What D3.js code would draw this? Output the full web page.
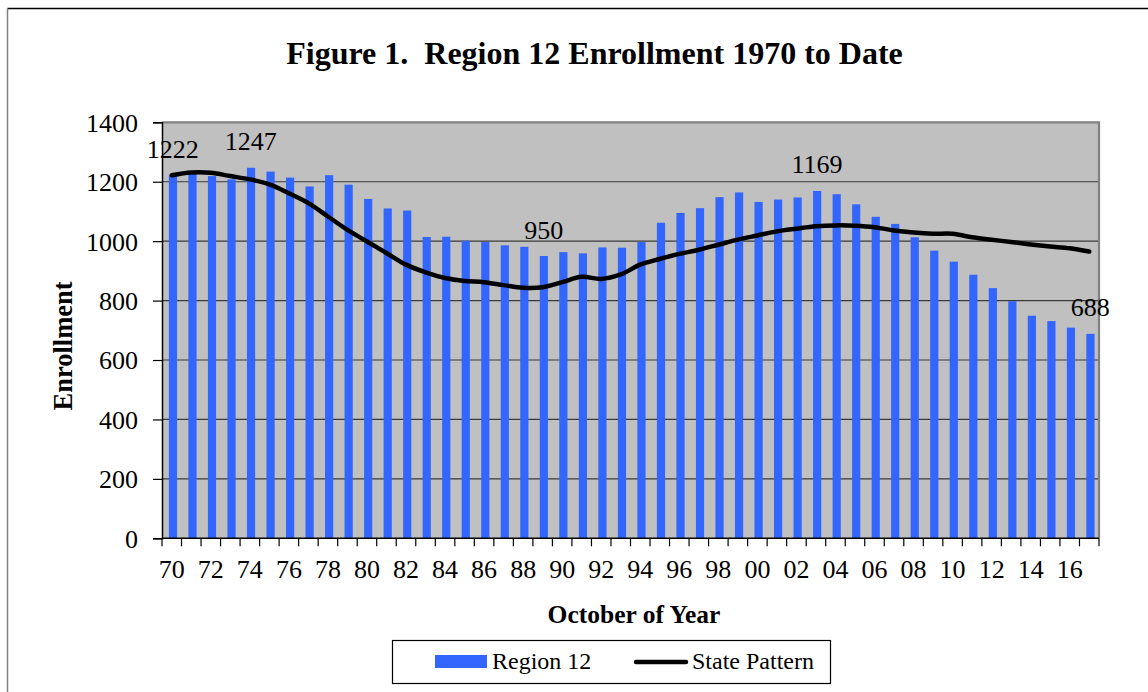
<!DOCTYPE html>
<html><head><meta charset="utf-8">
<script src="https://cdn.jsdelivr.net/npm/d3@7"></script>
<style>body{margin:0;background:#fff}svg{display:block}text{font-family:"Liberation Serif","Times New Roman",serif;fill:#000}</style>
</head><body>
<script>
const years = d3.range(1970, 2018);
const yearLabels = years.map(y => String(y % 100).padStart(2, "0"));
const region12 = [1222,1226,1219,1208,1247,1234,1214,1184,1222,1190,1142,1110,1103,1014,1015,1001,
  997,986,981,950,963,959,979,978,997,1062,1095,1111,1148,1164,1132,1140,1147,1169,1158,1124,1082,
  1058,1013,968,931,887,842,798,749,731,709,688];
const statePattern = [1222,1231,1230,1219,1208,1191,1161,1128,1083,1038,999,960,921,895,876,866,
  862,852,843,845,862,880,873,888,921,940,957,971,988,1005,1019,1033,1042,1050,1053,1052,1047,
  1036,1029,1025,1025,1013,1005,997,989,982,976,965];
const yTicks = [0,200,400,600,800,1000,1200,1400];
const labeledYears = [1970,1974,1989,2003,2017];

const W = 1148, H = 692;
const svg = d3.select("body").append("svg").attr("width", W).attr("height", H);
const L = 162, R = 1099, T = 122.3, B = 538.3;

// outer chart border
svg.append("line").attr("x1",7.5).attr("x2",W+5).attr("y1",8.5).attr("y2",8.5).attr("stroke","#000").attr("stroke-width",1.5);
svg.append("line").attr("x1",7.5).attr("x2",7.5).attr("y1",8.5).attr("y2",H+5).attr("stroke","#808080").attr("stroke-width",1.5);

const x = d3.scaleBand().domain(years).range([L, R]).padding(0);
const y = d3.scaleLinear().domain([0, 1400]).range([B, T]);

// plot background
svg.append("rect").attr("x",L).attr("y",T).attr("width",R-L).attr("height",B-T).attr("fill","#C0C0C0");

// gridlines
svg.append("g").selectAll("line").data(yTicks.filter(v => v > 0 && v < 1400)).join("line")
  .attr("x1",L).attr("x2",R).attr("y1",d=>y(d)).attr("y2",d=>y(d))
  .attr("stroke","#3a3a3a").attr("stroke-width",1.2);

// bars
const bw = x.bandwidth(), barW = bw*0.42;
svg.append("g").selectAll("rect").data(years).join("rect")
  .attr("x",(d)=>x(d)+(bw-barW)/2+1.2).attr("width",barW)
  .attr("y",(d,i)=>y(region12[i])).attr("height",(d,i)=>B-y(region12[i]))
  .attr("fill","#3366FF");

// plot border top/right
svg.append("path").attr("d",`M${L},${T}H${R}V${B}`).attr("fill","none").attr("stroke","#808080").attr("stroke-width",2.2);

// state pattern line
const line = d3.line().x((d,i)=>x(years[i])+bw/2).y(d=>y(d)).curve(d3.curveCatmullRom.alpha(0.5));
svg.append("path").datum(statePattern).attr("d",line).attr("fill","none").attr("stroke","#000")
  .attr("stroke-width",4.5).attr("stroke-linecap","round").attr("stroke-linejoin","round");

// y axis
const yAxis = d3.axisLeft(y).tickValues(yTicks).tickSize(9).tickPadding(15).tickFormat(d3.format("d"));
const gy = svg.append("g").attr("transform",`translate(${L},0)`).call(yAxis);
gy.select(".domain").attr("stroke","#000").attr("stroke-width",1.5);
gy.selectAll(".tick line").attr("stroke","#000").attr("stroke-width",1.2);
gy.selectAll(".tick text").style("font-size","26px").style("font-family","'Liberation Serif','Times New Roman',serif").attr("dy","0.34em");

// x axis: ticks at category boundaries, labels every 2 years
const gx = svg.append("g");
gx.append("line").attr("x1",L).attr("x2",R).attr("y1",B).attr("y2",B).attr("stroke","#000").attr("stroke-width",1.5);
gx.selectAll("line.t").data(years.concat([null])).join("line").attr("class","t")
  .attr("x1",(d,i)=> i<years.length ? x(d) : R).attr("x2",(d,i)=> i<years.length ? x(d) : R)
  .attr("y1",B).attr("y2",B+8).attr("stroke","#000").attr("stroke-width",1.2);
gx.selectAll("text").data(years.filter((d,i)=>i%2===0)).join("text")
  .attr("x",d=>x(d)+bw/2).attr("y",578).attr("text-anchor","middle").style("font-size","26px")
  .text(d=>yearLabels[years.indexOf(d)]);

// data labels
svg.append("g").selectAll("text").data(labeledYears).join("text")
  .attr("x",d=>x(d)+bw/2+1).attr("y",d=>y(region12[years.indexOf(d)])-17.5)
  .attr("text-anchor","middle").style("font-size","26px")
  .text(d=>region12[years.indexOf(d)]);

// titles
svg.append("text").attr("x",594.5).attr("y",64).attr("text-anchor","middle")
  .style("font-size","32px").style("font-weight","bold").attr("xml:space","preserve")
  .text("Figure 1.  Region 12 Enrollment 1970 to Date");
svg.append("text").attr("x",634).attr("y",623).attr("text-anchor","middle")
  .style("font-size","25.5px").style("font-weight","bold").text("October of Year");
svg.append("text").attr("transform","translate(72,346) rotate(-90)").attr("text-anchor","middle")
  .style("font-size","26.5px").style("font-weight","bold").text("Enrollment");

// legend
const lg = svg.append("g");
lg.append("rect").attr("x",392.5).attr("y",640.5).attr("width",438).attr("height",43)
  .attr("fill","#fff").attr("stroke","#000").attr("stroke-width",1.2);
lg.append("rect").attr("x",435).attr("y",655).attr("width",52).attr("height",13).attr("fill","#3366FF");
lg.append("text").attr("x",492).attr("y",669).style("font-size","24px").text("Region 12");
lg.append("line").attr("x1",636).attr("x2",686).attr("y1",662).attr("y2",662)
  .attr("stroke","#000").attr("stroke-width",4.5).attr("stroke-linecap","round");
lg.append("text").attr("x",692).attr("y",669).style("font-size","24px").text("State Pattern");
</script>
</body></html>
